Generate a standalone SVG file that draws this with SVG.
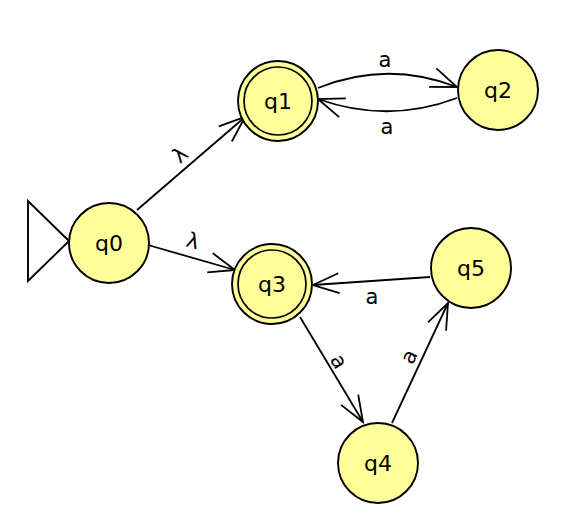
<svg xmlns="http://www.w3.org/2000/svg" width="562" height="526" viewBox="0 0 562 526">
<defs>
<style>
.st{fill:#ffff99;stroke:#000;stroke-width:1.9}
.in{fill:none;stroke:#000;stroke-width:1.7}
.lbl{font-family:"DejaVu Sans","Liberation Sans",sans-serif;font-size:21px;fill:#000;text-anchor:middle}
.nl{font-family:"DejaVu Sans","Liberation Sans",sans-serif;font-size:22px;fill:#000;text-anchor:middle}
.e{fill:none;stroke:#000;stroke-width:1.8;marker-end:url(#arr)}
</style>
<marker id="arr" markerUnits="userSpaceOnUse" orient="auto" viewBox="-30 -15 32 30" markerWidth="32" markerHeight="30" refX="0" refY="0">
<path d="M-26,-10 L0,0 L-26,10" fill="none" stroke="#000" stroke-width="1.8"/>
</marker>
</defs>
<rect width="562" height="526" fill="#fff"/>
<g id="connectors">
<path class="e" d="M137,210 L245,117"/>
<path class="e" d="M148,245 L235,270"/>
<path class="e" d="M318,88 Q387,60 457,87"/>
<path class="e" d="M457,98 Q388,124 318,99"/>
<path class="e" d="M430,277 L313,285"/>
<path class="e" d="M300,317 L363,422"/>
<path class="e" d="M392,423 L448,303"/>
<g class="lbl">
<text transform="translate(180,155) rotate(-41)" y="7">λ</text>
<text transform="translate(193,241) rotate(16)" y="7">λ</text>
<text x="385" y="67">a</text>
<text x="387" y="134">a</text>
<text x="372" y="304">a</text>
<text transform="translate(338,362) rotate(59)" y="6">a</text>
<text transform="translate(410,357) rotate(-64)" y="6">a</text>
</g>
</g>
<g id="start">
<path d="M69,241 L28,201 L28,281 Z" fill="none" stroke="#000" stroke-width="1.9"/>
</g>
<g id="q0"><circle class="st" cx="109" cy="243" r="40"/><text class="nl" x="109" y="251">q0</text></g>
<g id="q1"><circle class="st" cx="278" cy="101" r="40"/><circle class="in" cx="278" cy="101" r="34"/><text class="nl" x="278" y="109">q1</text></g>
<g id="q2"><circle class="st" cx="498" cy="90" r="40"/><text class="nl" x="498" y="98">q2</text></g>
<g id="q3"><circle class="st" cx="272" cy="284" r="40"/><circle class="in" cx="272" cy="284" r="34"/><text class="nl" x="272" y="292">q3</text></g>
<g id="q4"><circle class="st" cx="378" cy="463" r="40"/><text class="nl" x="378" y="471">q4</text></g>
<g id="q5"><circle class="st" cx="471" cy="268" r="40"/><text class="nl" x="471" y="276">q5</text></g>
</svg>
